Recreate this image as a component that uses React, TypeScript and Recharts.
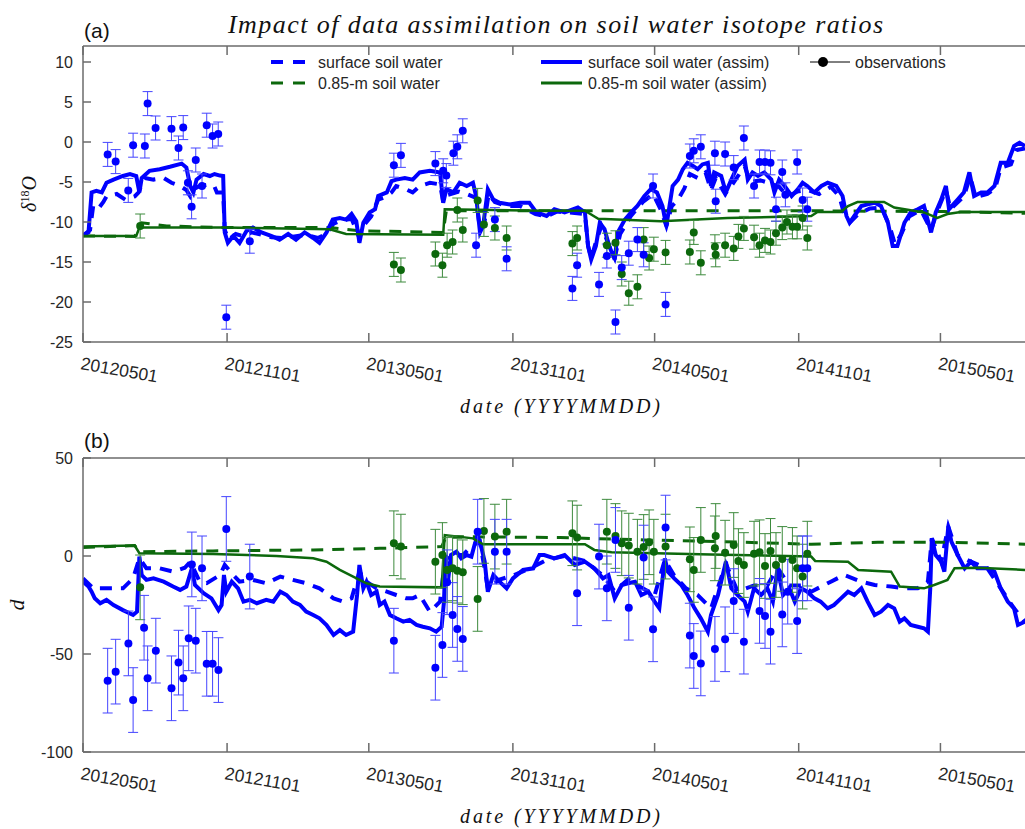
import React from "react";
import { ComposedChart, Line, Scatter, ErrorBar, XAxis, YAxis } from "recharts";

// x is days since 2012-05-01
const TICK_DAYS = [0, 184, 365, 549, 730, 914, 1095];
const TICK_LABELS = ["20120501", "20121101", "20130501", "20131101", "20140501", "20141101", "20150501"];
const X_END = 1203;

const D18O_TICKS = [-25, -20, -15, -10, -5, 0, 5, 10];
const D_TICKS = [-100, -50, 0, 50];

// (a) delta18O  [day, value]
const d18oSurface = [
  [0, -11.7], [9, -11], [13, -8.0], [19, -8.4], [26, -7.5], [30, -6.8], [43, -6.5], [54, -7.2], [66, -6.8], [71, -6.3],
  [76, -5.0], [79, -4.5], [90, -4.7], [103, -4.5], [113, -5.1], [124, -5.5], [132, -6.0], [137, -6.8], [143, -5.8],
  [149, -5.5], [162, -5.3], [168, -5.6], [171, -6.3], [179, -6.3], [181, -11.0], [186, -12.2], [195, -11.5], [205, -11.8],
  [215, -11.3], [228, -11.6], [241, -11.9], [256, -12.0], [270, -11.8], [285, -11.6], [300, -12.0], [311, -11.5],
  [320, -10.2], [330, -9.8], [343, -9.6], [353, -12.0], [358, -10.5], [368, -9.3], [377, -7.2], [388, -6.8], [394, -6.3],
  [400, -5.5], [410, -5.8], [421, -6.3], [430, -5.5], [443, -5.1], [456, -5.3], [460, -7.5], [466, -6.6], [480, -6.2],
  [490, -6.5], [502, -7.0], [507, -11.0], [512, -10.5], [518, -6.5], [526, -7.5], [540, -8.0], [558, -8.0], [578, -9.0],
  [592, -9.3], [605, -8.7], [620, -8.8], [641, -9.0], [645, -13], [649, -14.5], [655, -12.5], [662, -10.5], [672, -13],
  [679, -14.5], [686, -11.5], [700, -9.2], [715, -7.5], [728, -6.5], [738, -8.5], [745, -10.5], [752, -8.0], [760, -7.2],
  [768, -5.8], [775, -4.0], [785, -4.5], [795, -3.8], [802, -6.0], [808, -4.5], [820, -6.5], [830, -5.2], [845, -3.0],
  [852, -5.0], [865, -4.8], [879, -5.2], [889, -5.6], [900, -6.8], [912, -6.2], [925, -6.0], [940, -6.5], [955, -5.6],
  [966, -6.8], [972, -9.0], [980, -10], [990, -9.0], [1005, -8.3], [1020, -8.2], [1030, -10.5], [1037, -12.8],
  [1045, -11.5], [1055, -9.3], [1070, -8.5], [1083, -11.0], [1092, -8.4], [1102, -6.0], [1108, -8.4], [1125, -6.8],
  [1133, -4.3], [1140, -6.9], [1155, -6.5], [1165, -5.8], [1172, -3.2], [1185, -2.8], [1192, -1.0], [1203, -0.8],
];
const d18oSurfaceAssim = [
  [0, -11.7], [7, -11.3], [11, -6.3], [17, -6.1], [24, -6.3], [30, -5.1], [39, -4.7], [51, -4.25], [60, -4.0], [68, -4.25],
  [72, -6.3], [75, -4.5], [85, -3.6], [98, -3.4], [111, -3.1], [126, -2.7], [132, -3.2], [137, -5.5], [141, -6.3],
  [145, -4.7], [154, -4.0], [162, -4.25], [168, -4.0], [175, -4.2], [179, -4.25], [181, -11.3], [185, -12.6],
  [192, -11.75], [200, -12.6], [209, -11.1], [217, -10.7], [228, -11.3], [241, -11.75], [251, -12.2], [262, -11.5],
  [272, -12.2], [283, -11.3], [294, -12.0], [302, -12.6], [311, -11.3], [319, -9.7], [328, -9.5], [336, -9.7], [343, -9.0],
  [349, -9.9], [353, -12.6], [358, -10.1], [366, -8.8], [373, -8.4], [377, -6.75], [388, -6.3], [394, -4.9], [400, -4.7],
  [411, -4.5], [421, -4.7], [430, -3.8], [443, -3.6], [456, -3.8], [460, -7.6], [464, -5.9], [473, -6.3], [481, -5.1],
  [490, -5.5], [498, -5.1], [502, -6.75], [507, -11.3], [511, -10.5], [517, -5.9], [524, -7.2], [532, -7.6], [545, -7.8],
  [558, -7.6], [570, -7.6], [579, -8.8], [592, -9.25], [602, -8.4], [615, -8.8], [632, -8.2], [641, -8.8], [645, -13],
  [649, -14.7], [655, -13], [660, -10.1], [666, -10.9], [672, -13], [679, -14.7], [683, -11.3], [692, -9.7], [700, -8.8],
  [708, -8.0], [717, -6.75], [725, -5.9], [733, -6.3], [740, -8.0], [745, -10.5], [749, -8.0], [753, -5.5], [760, -4.7],
  [766, -3.4], [772, -2.6], [779, -3.0], [785, -3.4], [791, -2.8], [798, -2.6], [802, -5.5], [806, -3.8], [815, -4.25],
  [821, -6.3], [828, -4.7], [836, -3.0], [845, -2.2], [849, -4.7], [855, -3.8], [862, -4.25], [870, -3.8], [879, -4.7],
  [883, -6.3], [889, -4.7], [896, -5.5], [905, -6.75], [913, -5.9], [919, -5.1], [925, -5.5], [934, -6.3], [943, -5.5],
  [951, -5.1], [962, -5.5], [970, -6.75], [975, -9.25], [979, -10.1], [985, -9.25], [994, -8.0], [1002, -7.8],
  [1011, -7.6], [1019, -8.0], [1028, -10.1], [1034, -13], [1040, -13], [1049, -10.1], [1057, -8.8], [1066, -8.4],
  [1074, -8.0], [1083, -11.3], [1089, -8.8], [1096, -7.2], [1102, -5.5], [1106, -8.4], [1117, -7.2], [1125, -6.3],
  [1132, -3.8], [1138, -6.75], [1147, -6.3], [1155, -6.3], [1164, -5.5], [1172, -2.6], [1181, -2.6], [1189, -0.5],
  [1196, -0.1], [1203, -0.5],
];
const d18oDeep = [
  [0, -11.75], [66, -11.8], [75, -10.1], [107, -10.5], [179, -10.7], [315, -10.7], [353, -11.1], [460, -11.3],
  [464, -8.6], [717, -8.6], [930, -8.6], [1100, -8.7], [1203, -8.9],
];
const d18oDeepAssim = [
  [0, -11.75], [68, -11.75], [72, -10.7], [179, -10.7], [315, -10.9], [336, -11.5], [460, -11.6], [462, -8.4],
  [589, -8.6], [641, -8.6], [658, -9.6], [738, -9.9], [823, -9.5], [930, -9.25], [938, -8.75], [968, -8.75], [977, -8.0],
  [989, -7.5], [1023, -7.5], [1036, -8.2], [1074, -8.8], [1091, -9.5], [1104, -9.0], [1121, -8.75], [1203, -8.75],
];
const d18oObsSurface = [
  [31.5, -1.55], [41.7, -2.45], [57.8, -6.05], [64, -0.4], [79, -0.5], [82.5, 4.8], [92.7, 1.75], [113, 1.67], [122, -0.75],
  [128, 1.8], [134, -5.1], [138.7, -8.1], [144, -2.25], [152, -5.5], [158, 2.1], [165.5, 0.75], [172.7, 1.0], [183, -21.9],
  [213, -12.4], [397, -2.9], [406, -1.67], [450, -2.7], [460, -3.6], [464, -4.2], [473, -1.4], [478, -0.6], [485, 1.4],
  [502, -12.9], [526, -9.7], [541, -14.6], [625, -18.3], [631, -15.4], [659, -17.8], [669, -14.25], [680, -22.5],
  [688, -15.7], [697, -13.9], [708, -12.2], [716, -14.1], [728, -5.5], [744, -20.3], [775, -1.75], [780, -1.1],
  [789, -0.6], [807, -1.4], [808, -7.4], [820, -1.5], [831, -3.2], [844, 0.5], [857, -5.5], [864, -2.5], [871, -2.5],
  [878, -2.6], [885, -8.4], [893, -3.75], [897, -6.6], [912, -2.5], [919, -7.25], [925, -8.4],
];
const d18oObsDeep = [
  [73, -10.5], [397, -15.3], [406, -16.0], [450, -14.0], [459, -15.4], [465, -12.9], [472, -12.5], [478, -8.5], [485, -11.0],
  [504, -7.3], [512, -10.3], [526, -10.75], [541, -12.0], [625, -12.7], [631, -12.0], [669, -12.9], [680, -12.6],
  [688, -16.5], [697, -18.9], [708, -18.1], [716, -12.2], [723, -14.5], [729, -13.4], [744, -13.8], [775, -13.75],
  [780, -11.3], [789, -15.1], [807, -13.1], [808, -14.1], [820, -12.9], [831, -13.3], [837, -11.8], [844, -10.8],
  [857, -11.9], [864, -12.9], [871, -12.3], [878, -12.5], [885, -11.4], [893, -10.7], [899, -10.0], [906, -10.6],
  [912, -10.6], [919, -9.5], [925, -12.0],
];
const D18O_ERR = 1.5;

// (b) deuterium excess  [day, value]
const dSurface = [
  [0, -11.4], [13, -16.5], [34, -16.5], [51, -16.5], [64, -11.4], [72, -1.2], [81, -6.3], [98, -6.3], [115, -8.0], [130, -6],
  [137, -2.9], [149, -13.1], [158, -13.9], [175, -9.7], [181, -4.6], [192, -9.7], [200, -13.1], [217, -12.2], [234, -13.9],
  [252, -10.5], [268, -12.2], [285, -13.9], [302, -16.5], [320, -21.6], [332, -23.3], [343, -21.6], [353, -8.0],
  [362, -13.1], [375, -16.5], [388, -18.2], [400, -19.9], [413, -21.6], [421, -21.6], [430, -19.9], [443, -28.4],
  [456, -23.3], [462, -2.9], [468, 0.5], [485, 0.5], [498, 5.6], [507, 7.3], [517, -16.5], [532, -12], [549, -10],
  [575, -5.5], [592, -2], [615, 0], [641, -2.5], [664, -10], [679, -18], [696, -12], [713, -16], [730, -20], [743, -2],
  [755, -10], [770, -16.5], [785, -19.9], [802, -26.7], [821, -4], [836, -18], [857, -15], [874, -15], [887, -6],
  [902, -15], [917, -15], [930, -18.2], [955, -13.1], [972, -9.7], [994, -13.1], [1011, -14.8], [1032, -15.6],
  [1049, -16.5], [1066, -16.5], [1079, -13.1], [1084, 9.0], [1096, -2.9], [1105, 15], [1117, 0.5], [1134, -2.9],
  [1155, -6.3], [1172, -16.5], [1189, -26.7], [1203, -33.5],
];
const dSurfaceAssim = [
  [0, -13.1], [7, -15.6], [11, -18.2], [15, -21.6], [22, -24.1], [30, -22.4], [39, -25], [51, -27.6], [64, -30.1],
  [69, -28.4], [72, -0.3], [75, -9.7], [81, -12.2], [90, -11.4], [103, -13.1], [115, -15.6], [124, -17.3], [132, -15.6],
  [139, -6.3], [143, -14.8], [154, -19.0], [164, -21.6], [173, -27.6], [177, -25], [180, -9.7], [183, -18.2], [190, -13.1],
  [198, -16.5], [205, -23.3], [213, -22.4], [222, -24.1], [234, -22.4], [243, -23.3], [252, -18.2], [260, -19.9],
  [268, -23.3], [277, -25], [285, -28.4], [294, -30.1], [302, -31.8], [311, -35.2], [320, -40.3], [328, -37.8],
  [336, -40.3], [345, -38.6], [350, -19.9], [353, -4.6], [358, -16.5], [362, -13.1], [368, -19.9], [375, -18.2],
  [379, -25], [385, -23.3], [392, -30.1], [400, -31.8], [409, -33.5], [417, -32.6], [426, -35.2], [434, -36.1],
  [443, -36.9], [451, -38.6], [458, -36.1], [461, -23.3], [463, 0.5], [466, -13.1], [470, 0.5], [477, 2.2], [483, -1.2],
  [490, 0.5], [496, -0.3], [500, 5.6], [504, 10.7], [509, 3.9], [513, -2.9], [517, -18.2], [524, -9.7], [532, -13.1],
  [541, -16.5], [549, -11.4], [562, -7.1], [575, -6.3], [583, 0.5], [589, 0.5], [602, -1.2], [615, 0.5], [628, -4.6],
  [641, -2.9], [653, -6.3], [664, -11.4], [671, -9.7], [679, -21.6], [688, -14.8], [696, -13.9], [705, -13.1],
  [713, -19.9], [722, -18.2], [730, -23.3], [736, -26.7], [743, -1.2], [747, -8.0], [755, -11.4], [764, -14.8],
  [772, -19.9], [781, -26.7], [789, -31.8], [798, -38.6], [802, -30.1], [811, -19.9], [821, -2.9], [828, -16.5],
  [836, -19.9], [845, -23.3], [849, -28.4], [857, -16.5], [866, -19.9], [874, -16.5], [881, -23.3], [887, -6.3],
  [894, -19.9], [902, -16.5], [909, -23.3], [917, -16.5], [925, -18.2], [934, -21.6], [942, -23.3], [951, -26.7],
  [959, -25], [968, -21.6], [977, -18.2], [985, -19.9], [994, -16.5], [1002, -23.3], [1011, -30.1], [1019, -28.4],
  [1028, -25], [1036, -26.7], [1043, -33.5], [1049, -31.8], [1057, -35.2], [1066, -36.1], [1074, -36.9], [1079, -38.6],
  [1082, -16.5], [1084, 9.0], [1089, 0.5], [1096, -2.9], [1100, -8.0], [1105, 15], [1109, 7.3], [1117, 0.5],
  [1126, -6.3], [1134, -2.9], [1142, -6.3], [1155, -6.3], [1164, -8.0], [1172, -16.5], [1181, -23.3], [1189, -26.7],
  [1194, -35.2], [1203, -33.5],
];
const dDeep = [
  [0, 4.3], [66, 5.3], [73, 2.2], [166, 2.6], [294, 3.1], [379, 3.9], [458, 4.8], [464, 9.9], [609, 9.4], [717, 8.2],
  [845, 7.0], [930, 6.0], [1015, 7.0], [1100, 7.0], [1203, 6.0],
];
const dDeepAssim = [
  [0, 4.8], [66, 5.3], [72, 1.4], [166, 1.0], [247, 0], [294, -1.2], [311, -2.9], [328, -7.1], [345, -10.5], [362, -13.9],
  [379, -15.6], [458, -16], [462, 10.7], [498, 9.0], [511, 6.0], [641, 6.0], [653, 3.1], [675, 1.9], [802, 0.8],
  [930, -0.3], [935, -2.5], [977, -2.9], [990, -7.1], [1032, -8.0], [1043, -15.6], [1074, -16.5], [1087, -14.8],
  [1104, -12.2], [1113, -6.3], [1142, -6.0], [1203, -7.1],
];
const dObsSurface = [
  [31.5, -63.6], [41.7, -59], [58, -44.6], [64, -73.5], [78, -36.6], [82.5, -62.4], [93, -48.3], [113, -67.5], [122, -54.4],
  [128, -62.4], [135, -42], [139, -4.3], [144, -43.2], [152, -6.3], [158, -55], [165.5, -55], [173, -58.2], [183, 13.8],
  [213, -10.5], [397, -43.2], [450, -57], [459, -45.4], [465, -13.4], [472, -30.1], [478, -37.2], [485, -42.3],
  [504, 12.4], [526, 2.2], [541, 2.2], [631, -19], [659, -0.3], [669, -16.5], [680, 8.2], [697, -26.4], [716, -0.8],
  [728, -37.4], [744, 14.5], [775, -40.6], [780, -51], [789, -54.8], [807, -47.4], [820, -42.5], [831, -23], [844, -43.7],
  [864, -28], [871, -30.6], [878, -38.6], [893, -29.8], [900, -18.2], [912, -33.2], [919, -6.3], [925, -6.3],
];
const dObsDeep = [
  [73, -16], [397, 6.5], [406, 4.8], [450, -2.9], [459, 0.5], [465, -7.1], [472, -6.3], [478, -7.5], [485, -8.3],
  [504, -21.9], [512, 12.8], [526, 9.9], [541, 12.4], [625, 11.6], [631, 9.4], [669, 12.4], [680, 10.2], [688, 6.5],
  [697, 5.3], [708, 2.2], [716, 4.6], [723, 7.0], [729, 2.2], [744, 4.8], [775, -1.7], [780, -7.1], [789, 8.2], [807, 3.9],
  [808, 10.2], [820, 1.7], [831, 5.6], [837, -2.6], [844, -4.6], [857, 1.2], [864, 1.9], [871, -5.1], [878, 2.6],
  [885, -4.6], [893, -1.5], [906, -2.0], [912, -6.3], [919, -10.5], [925, 1.2],
];
const D_ERR = 16.5;

const AXIS = "#6b6b6b";
const TEXT = "#262626";
const BLUE = "#0000ff";
const BLUE_BAR = "#4545ff";
const GREEN = "#0c680c";
const GREEN_BAR = "#3d8a3d";
const SANS = "'Liberation Sans', Arial, sans-serif";
const SERIF = "'Liberation Serif', 'DejaVu Serif', serif";

const rows = (a: number[][]) => a.map(([d, v]) => ({ d, v }));
const obsRows = (a: number[][], e: number) => a.map(([d, v]) => ({ d, v, e }));

function DateTick(props: any) {
  const { x, y, payload } = props;
  const label = TICK_LABELS[TICK_DAYS.indexOf(payload.value)];
  const tx = x - 3;
  const ty = y + 27;
  return (
    <text x={tx} y={ty} transform={`rotate(10 ${tx} ${ty})`} fontSize={17.5} fill={TEXT} fontFamily={SANS}>
      {label}
    </text>
  );
}

const dot = (color: string) => (p: any) => <circle cx={p.cx} cy={p.cy} r={4} fill={color} />;

function Panel(props: any) {
  const { height, marginTop, xAxisHeight, yDomain, yTicks, surface, surfaceAssim, deep, deepAssim, obsSurface, obsDeep, err } = props;
  return (
    <ComposedChart width={1025} height={height} margin={{ top: marginTop, right: 0, bottom: 0, left: 0 }}>
      <XAxis xAxisId="top" orientation="top" type="number" dataKey="d" domain={[0, X_END]} ticks={TICK_DAYS} interval={0}
        allowDataOverflow height={1} tickSize={-9} tick={() => <g />} stroke={AXIS} strokeWidth={1.5} />
      <XAxis type="number" dataKey="d" domain={[0, X_END]} ticks={TICK_DAYS} interval={0} allowDataOverflow
        height={xAxisHeight} tickSize={-9} tickMargin={9} tick={<DateTick />} stroke={AXIS} strokeWidth={1.5} />
      <YAxis type="number" dataKey="v" domain={yDomain} ticks={yTicks} interval={0} allowDataOverflow width={83}
        tickSize={-8} tickMargin={18} tick={{ fill: TEXT, fontSize: 16, fontFamily: SANS }} stroke={AXIS} strokeWidth={1.5} />
      <Line data={rows(surface)} dataKey="v" type="linear" stroke={BLUE} strokeWidth={4} strokeDasharray="12 9"
        dot={false} isAnimationActive={false} />
      <Line data={rows(deep)} dataKey="v" type="linear" stroke={GREEN} strokeWidth={3} strokeDasharray="12 9"
        dot={false} isAnimationActive={false} />
      <Line data={rows(surfaceAssim)} dataKey="v" type="linear" stroke={BLUE} strokeWidth={4}
        dot={false} isAnimationActive={false} />
      <Line data={rows(deepAssim)} dataKey="v" type="linear" stroke={GREEN} strokeWidth={2.5}
        dot={false} isAnimationActive={false} />
      <Scatter data={obsRows(obsDeep, err)} dataKey="v" shape={dot(GREEN)} isAnimationActive={false}>
        <ErrorBar dataKey="e" direction="y" width={5} stroke={GREEN_BAR} strokeWidth={1} isAnimationActive={false} />
      </Scatter>
      <Scatter data={obsRows(obsSurface, err)} dataKey="v" shape={dot(BLUE)} isAnimationActive={false}>
        <ErrorBar dataKey="e" direction="y" width={5} stroke={BLUE_BAR} strokeWidth={1} isAnimationActive={false} />
      </Scatter>
    </ComposedChart>
  );
}

function Overlay() {
  return (
    <svg width={1025} height={829} style={{ position: "absolute", left: 0, top: 0, pointerEvents: "none" }}>
      <text x={228} y={33} fontFamily={SERIF} fontStyle="italic" fontSize={26} fill="#111" textLength={655} lengthAdjust="spacing">
        Impact of data assimilation on soil water isotope ratios
      </text>
      <text x={84} y={38} fontFamily={SANS} fontSize={21} fill="#111">(a)</text>
      <text x={84} y={448} fontFamily={SANS} fontSize={21} fill="#111">(b)</text>

      <g fontFamily={SANS} fontSize={16} fill={TEXT}>
        <line x1={271} x2={305} y1={62} y2={62} stroke={BLUE} strokeWidth={4} strokeDasharray="12 10" />
        <text x={318} y={68}>surface soil water</text>
        <line x1={271} x2={305} y1={83} y2={83} stroke={GREEN} strokeWidth={3} strokeDasharray="12 10" />
        <text x={318} y={89}>0.85-m soil water</text>
        <line x1={541} x2={582} y1={62} y2={62} stroke={BLUE} strokeWidth={4} />
        <text x={588} y={68}>surface soil water (assim)</text>
        <line x1={541} x2={582} y1={83} y2={83} stroke={GREEN} strokeWidth={3} />
        <text x={588} y={89}>0.85-m soil water (assim)</text>
        <line x1={810} x2={850} y1={62} y2={62} stroke="#000" strokeWidth={1} />
        <circle cx={823} cy={62} r={5} fill="#000" />
        <text x={855} y={68}>observations</text>
      </g>

      <text x={460} y={413} fontFamily={SERIF} fontStyle="italic" fontSize={20} fill="#111" textLength={200} lengthAdjust="spacing">
        date (YYYYMMDD)
      </text>
      <text x={460} y={823} fontFamily={SERIF} fontStyle="italic" fontSize={20} fill="#111" textLength={200} lengthAdjust="spacing">
        date (YYYYMMDD)
      </text>

      <text x={36} y={194} transform="rotate(-90 36 194)" textAnchor="middle" fontFamily={SERIF} fontStyle="italic" fontSize={20} fill="#111">
        δ<tspan dy={-7} fontSize={12} fontStyle="normal">18</tspan><tspan dy={7}>O</tspan>
      </text>
      <text x={24} y={605} transform="rotate(-90 24 605)" textAnchor="middle" fontFamily={SERIF} fontStyle="italic" fontSize={22} fill="#111">
        d
      </text>
    </svg>
  );
}

export default function App() {
  return (
    <div style={{ position: "absolute", left: 0, top: 0, width: 1025, height: 829, background: "#fff", overflow: "hidden" }}>
      <div style={{ position: "absolute", left: 0, top: 0 }}>
        <Panel height={420} marginTop={45} xAxisHeight={78} yDomain={[-25, 12]} yTicks={D18O_TICKS}
          surface={d18oSurface} surfaceAssim={d18oSurfaceAssim} deep={d18oDeep} deepAssim={d18oDeepAssim}
          obsSurface={d18oObsSurface} obsDeep={d18oObsDeep} err={D18O_ERR} />
      </div>
      <div style={{ position: "absolute", left: 0, top: 410 }}>
        <Panel height={419} marginTop={47} xAxisHeight={77} yDomain={[-100, 50]} yTicks={D_TICKS}
          surface={dSurface} surfaceAssim={dSurfaceAssim} deep={dDeep} deepAssim={dDeepAssim}
          obsSurface={dObsSurface} obsDeep={dObsDeep} err={D_ERR} />
      </div>
      <Overlay />
    </div>
  );
}
